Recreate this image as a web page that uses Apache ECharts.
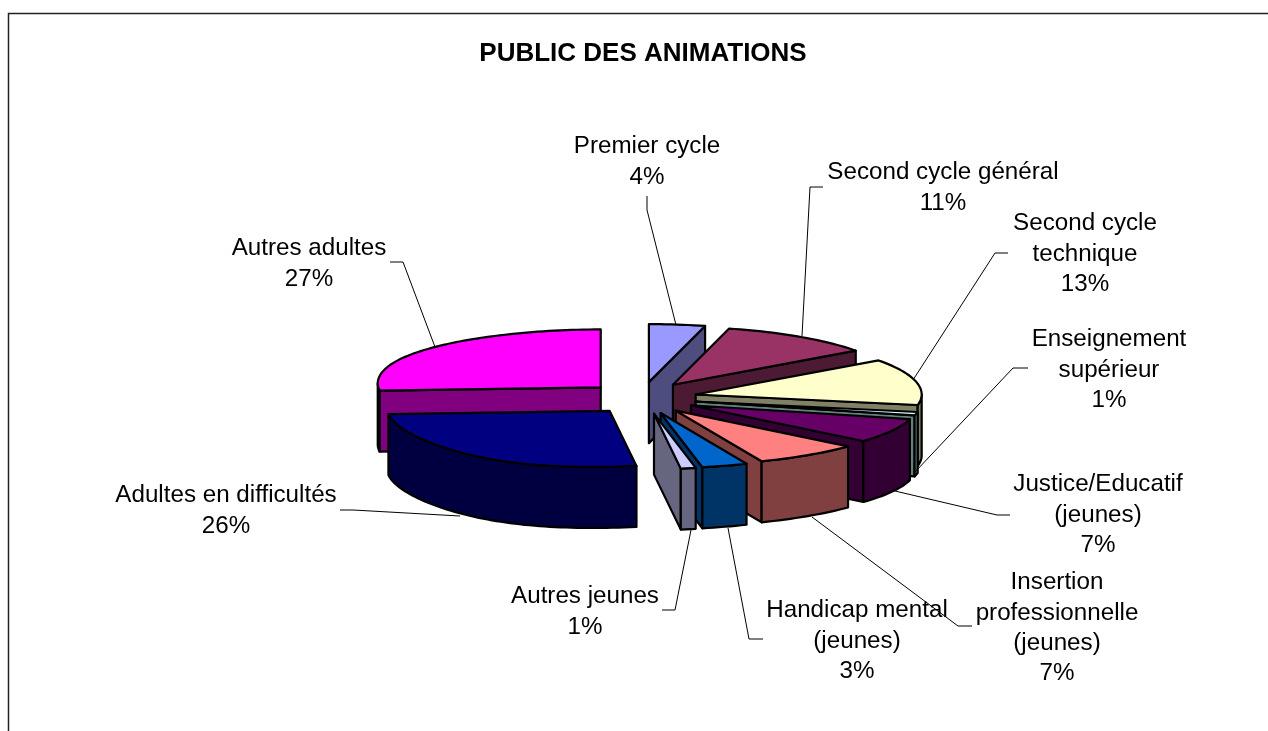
<!DOCTYPE html>
<html>
<head>
<meta charset="utf-8">
<style>html,body{margin:0;padding:0;background:#fff}#c{width:1268px;height:731px}</style>
<script src="https://cdn.jsdelivr.net/npm/echarts@6/dist/echarts.min.js"></script>
</head>
<body>
<div id="c"></div>
<script>
const chartTitle = 'PUBLIC DES ANIMATIONS';
const categories = ['Premier cycle','Second cycle général','Second cycle\ntechnique','Enseignement\nsupérieur\n','Justice/Educatif\n(jeunes)','Insertion\nprofessionnelle\n(jeunes)','Handicap mental\n(jeunes)','Autres jeunes','Adultes en difficultés','Autres adultes'];
const values = [4,11,13,1,7,7,3,1,26,27];
const topColors = ['#9999FF','#993366','#FFFFCC','#CCFFFF','#660066','#FF8080','#0066CC','#CCCCFF','#000080','#FF00FF'];
const wallColors = ['#4D4D80','#4D1A33','#808066','#668080','#330033','#804040','#003366','#666680','#000040','#800080'];
const drawOrder = [9,8,0,1,2,3,4,5,6,7];
// label layout: centre x, first line y, leader polyline
const labelX = [647,943,1085,1109,1098,1057,857,585,226,309];
const labelY = [146.5,172.5,223.5,339.5,484.5,582.5,610.5,596.5,495.5,248.5];
const leaders = [
  [[647,196],[647,210],[676,325]],
  [[823,187],[810,187],[802,336]],
  [[1008,253],[995,253],[913,380]],
  [[1028,368],[1013,368],[915,472]],
  [[1010,515],[997,515],[895,491]],
  [[972,626],[958,626],[812,517]],
  [[763,639],[749,639],[728,528]],
  [[662,610],[675,610],[691,530]],
  [[340,510],[353,510],[460,516]],
  [[390,262],[403,262],[435,347]]
];
const pie = {cx:642, cy:398, rxRight:226, rxLeft:223, ryBack:58, ryFront:56, depth:61, explodeX:55, explodeY:16, frontShift:17, leftLift:4};

const total = values.reduce((a,b)=>a+b,0);
let acc = 0;
const rows = values.map((v,i)=>{const s=acc; acc+=v; return {i, start:s/total*360, end:acc/total*360};});
const pieData = drawOrder.map(i=>[rows[i].start, rows[i].end, i]);
const rad = d=>d*Math.PI/180;

function renderSlice(params, api){
  const t1 = api.value(0), t2 = api.value(1), idx = api.value(2);
  const mid = rad((t1+t2)/2);
  const ax = pie.cx + pie.explodeX*Math.sin(mid);
  const ay = pie.cy - pie.explodeY*Math.cos(mid);
  const pt = (deg, dz=0)=>{
    const r = rad(deg), c = Math.cos(r), s = Math.sin(r);
    const shift = pie.frontShift*Math.pow(Math.max(0,-c),5);
    const lift = pie.leftLift*Math.pow(Math.max(0,-s),3);
    return [ax + (s>0?pie.rxRight:pie.rxLeft)*s - shift, ay - (c>0?pie.ryBack:pie.ryFront)*c - lift + dz];
  };
  const arc = (a,b,dz=0)=>{
    const n = Math.max(2,Math.ceil(Math.abs(b-a)/1.5));
    const out = [];
    for(let k=0;k<=n;k++) out.push(pt(a+(b-a)*k/n,dz));
    return out;
  };
  const style = (fill)=>({fill, stroke:'#000', lineWidth:2.2, lineJoin:'round'});
  const poly = (points,fill)=>({type:'polygon', shape:{points}, style:style(fill), silent:true});
  const children = [];
  const wall = wallColors[idx];
  const apexLow = [ax, ay+pie.depth];
  if(t2>0 && t2<=180){
    children.push(poly([[ax,ay],pt(t2),pt(t2,pie.depth),apexLow],wall));
  }
  if(t1>=180 && t1<360){
    children.push(poly([[ax,ay],pt(t1),pt(t1,pie.depth),apexLow],wall));
  }
  const a = Math.max(t1,90), b = Math.min(t2,270);
  if(b>a){
    children.push(poly(arc(a,b).concat(arc(a,b,pie.depth).reverse()),wall));
  }
  children.push(poly([[ax,ay]].concat(arc(t1,t2)),topColors[idx]));
  return {type:'group', children};
}

function renderLabel(params, api){
  const i = api.value(0);
  const lines = categories[i].split('\n').filter(Boolean);
  lines.push(values[i]+'%');
  const children = [{type:'polyline', shape:{points:leaders[i]}, style:{stroke:'#000',lineWidth:1,fill:null}, silent:true}];
  lines.forEach((t,k)=>children.push({type:'text', silent:true, style:{
    x:labelX[i], y:labelY[i]+k*30.4, text:t, align:'center', verticalAlign:'middle',
    fill:'#000', font:'24.2px "Liberation Sans", Arial, sans-serif'}}));
  return {type:'group', children};
}

const chart = echarts.init(document.getElementById('c'), null, {renderer:'canvas'});
chart.setOption({
  animation:false,
  backgroundColor:'#fff',
  title:{text:chartTitle, left:638, top:36, textAlign:'center',
    textStyle:{fontFamily:'"Liberation Sans", Arial, sans-serif', fontWeight:'bold', fontSize:26, color:'#000'}},
  graphic:[
    {type:'polyline', silent:true, shape:{points:[[8.5,731],[8.5,13.5],[1268,13.5]]}, style:{stroke:'#222',lineWidth:1.5,fill:null}}
  ],
  series:[
    {type:'custom', coordinateSystem:'none', renderItem:renderSlice, data:pieData, z:2, silent:true, clip:false},
    {type:'custom', coordinateSystem:'none', renderItem:renderLabel, data:categories.map((c,i)=>[i]), z:3, silent:true, clip:false}
  ]
});
</script>
</body>
</html>
